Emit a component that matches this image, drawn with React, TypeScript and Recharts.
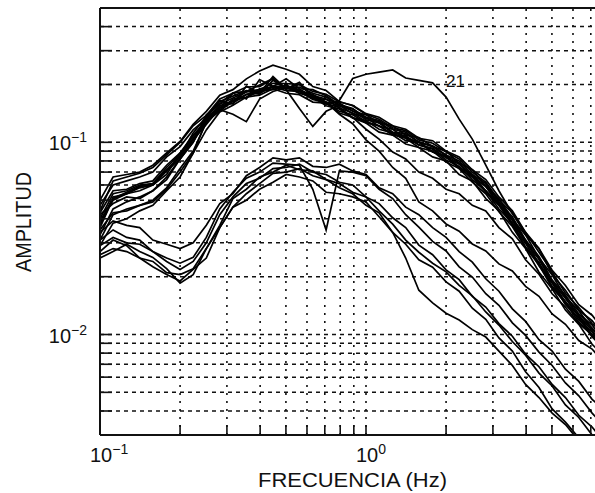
import React from "react"
import { LineChart, Line, XAxis, YAxis, ReferenceLine } from "recharts"

// frequencies (Hz), 1/20 decade steps
const freqs = [0.1, 0.112, 0.126, 0.141, 0.158, 0.178, 0.2, 0.224, 0.251, 0.282, 0.316, 0.355, 0.398, 0.447, 0.501, 0.562, 0.631, 0.708, 0.794, 0.891, 1.0, 1.12, 1.26, 1.41, 1.58, 1.78, 2.0, 2.24, 2.51, 2.82, 3.16, 3.55, 3.98, 4.47, 5.01, 5.62, 6.31, 7.08, 7.94]

// upper group of spectra
const upper1 = [0.05, 0.066, 0.068, 0.07, 0.076, 0.088, 0.101, 0.124, 0.145, 0.176, 0.188, 0.214, 0.235, 0.252, 0.24, 0.226, 0.195, 0.186, 0.163, 0.155, 0.14, 0.132, 0.119, 0.115, 0.103, 0.099, 0.089, 0.082, 0.07, 0.062, 0.05, 0.043, 0.033, 0.028, 0.0205, 0.017, 0.0134, 0.0118, 0.0096]
const upper2 = [0.042, 0.048, 0.052, 0.051, 0.056, 0.064, 0.082, 0.1, 0.132, 0.15, 0.18, 0.168, 0.212, 0.195, 0.214, 0.19, 0.188, 0.175, 0.157, 0.15, 0.133, 0.128, 0.113, 0.111, 0.1, 0.096, 0.086, 0.08, 0.068, 0.061, 0.049, 0.041, 0.031, 0.0255, 0.0192, 0.016, 0.0128, 0.0112, 0.0091]
const upper3 = [0.037, 0.051, 0.054, 0.058, 0.06, 0.071, 0.085, 0.112, 0.136, 0.163, 0.174, 0.186, 0.178, 0.21, 0.19, 0.194, 0.18, 0.172, 0.155, 0.146, 0.131, 0.126, 0.112, 0.108, 0.097, 0.092, 0.081, 0.075, 0.064, 0.056, 0.045, 0.038, 0.0285, 0.0238, 0.0178, 0.0149, 0.0119, 0.0103, 0.0083]
const upper4 = [0.031, 0.042, 0.045, 0.047, 0.05, 0.058, 0.073, 0.09, 0.127, 0.147, 0.168, 0.171, 0.186, 0.188, 0.199, 0.184, 0.177, 0.159, 0.152, 0.134, 0.13, 0.117, 0.112, 0.102, 0.1, 0.089, 0.085, 0.074, 0.068, 0.056, 0.048, 0.0378, 0.031, 0.0232, 0.019, 0.0147, 0.0126, 0.0099, 0.0084]
const upper5 = [0.044, 0.063, 0.066, 0.069, 0.074, 0.086, 0.1, 0.122, 0.138, 0.168, 0.18, 0.194, 0.195, 0.214, 0.188, 0.15, 0.121, 0.145, 0.156, 0.149, 0.135, 0.13, 0.117, 0.113, 0.1, 0.095, 0.085, 0.078, 0.067, 0.059, 0.048, 0.04, 0.0303, 0.0247, 0.0188, 0.0155, 0.0125, 0.0108, 0.009]
const upper6 = [0.039, 0.05, 0.054, 0.056, 0.06, 0.068, 0.088, 0.104, 0.135, 0.148, 0.14, 0.128, 0.168, 0.184, 0.193, 0.18, 0.177, 0.162, 0.156, 0.141, 0.135, 0.121, 0.117, 0.105, 0.101, 0.089, 0.084, 0.073, 0.066, 0.055, 0.047, 0.037, 0.0298, 0.0228, 0.0185, 0.0143, 0.0122, 0.0097, 0.0084]
const upper7 = [0.035, 0.043, 0.044, 0.047, 0.049, 0.057, 0.07, 0.088, 0.129, 0.145, 0.165, 0.171, 0.19, 0.193, 0.197, 0.18, 0.172, 0.155, 0.149, 0.134, 0.126, 0.113, 0.109, 0.098, 0.094, 0.084, 0.08, 0.068, 0.063, 0.051, 0.044, 0.034, 0.028, 0.0211, 0.0173, 0.0134, 0.0113, 0.0089, 0.0076]
const upper8 = [0.047, 0.06, 0.063, 0.066, 0.07, 0.084, 0.095, 0.116, 0.133, 0.165, 0.158, 0.196, 0.18, 0.22, 0.19, 0.2, 0.175, 0.168, 0.151, 0.142, 0.128, 0.122, 0.11, 0.105, 0.094, 0.09, 0.079, 0.073, 0.062, 0.054, 0.0435, 0.0365, 0.0283, 0.023, 0.0175, 0.0146, 0.0116, 0.0099, 0.008]
const upper9 = [0.043, 0.056, 0.057, 0.061, 0.063, 0.076, 0.088, 0.109, 0.128, 0.155, 0.164, 0.184, 0.188, 0.203, 0.202, 0.2, 0.184, 0.178, 0.162, 0.156, 0.141, 0.135, 0.122, 0.117, 0.105, 0.102, 0.09, 0.084, 0.072, 0.064, 0.052, 0.044, 0.034, 0.028, 0.0216, 0.018, 0.0143, 0.0126, 0.0103]
const upper10 = [0.033, 0.045, 0.049, 0.052, 0.056, 0.066, 0.082, 0.1, 0.139, 0.159, 0.181, 0.184, 0.199, 0.215, 0.19, 0.205, 0.17, 0.167, 0.16, 0.145, 0.139, 0.126, 0.122, 0.109, 0.106, 0.095, 0.09, 0.078, 0.072, 0.059, 0.051, 0.0398, 0.033, 0.025, 0.0204, 0.0157, 0.0133, 0.0107, 0.0092]
const upper11 = [0.029, 0.038, 0.04, 0.044, 0.047, 0.056, 0.066, 0.088, 0.116, 0.144, 0.156, 0.172, 0.176, 0.19, 0.18, 0.177, 0.162, 0.16, 0.145, 0.139, 0.126, 0.122, 0.109, 0.107, 0.097, 0.093, 0.083, 0.077, 0.066, 0.059, 0.047, 0.0392, 0.0303, 0.0247, 0.0188, 0.0155, 0.0124, 0.0105, 0.0086]

// station 21, the one with the bump above 1 Hz
const station21 = [0.04, 0.054, 0.056, 0.06, 0.061, 0.074, 0.087, 0.108, 0.131, 0.158, 0.17, 0.183, 0.185, 0.196, 0.194, 0.189, 0.174, 0.158, 0.165, 0.215, 0.226, 0.232, 0.238, 0.216, 0.21, 0.204, 0.172, 0.132, 0.104, 0.076, 0.056, 0.0425, 0.034, 0.0268, 0.0212, 0.0164, 0.0138, 0.0114, 0.0099]

// leave the upper group after 1 Hz
const mid1 = [0.036, 0.051, 0.055, 0.059, 0.061, 0.072, 0.084, 0.105, 0.126, 0.152, 0.163, 0.178, 0.184, 0.196, 0.191, 0.187, 0.169, 0.162, 0.14, 0.125, 0.103, 0.09, 0.074, 0.065, 0.049, 0.044, 0.0376, 0.0345, 0.0296, 0.0272, 0.0233, 0.0214, 0.0178, 0.0158, 0.0128, 0.0113, 0.0093, 0.0084, 0.007]
const mid2 = [0.038, 0.052, 0.054, 0.059, 0.06, 0.071, 0.082, 0.103, 0.124, 0.151, 0.16, 0.177, 0.18, 0.194, 0.186, 0.184, 0.167, 0.161, 0.142, 0.135, 0.117, 0.104, 0.089, 0.082, 0.07, 0.065, 0.057, 0.054, 0.047, 0.044, 0.036, 0.0315, 0.0245, 0.0206, 0.0163, 0.0139, 0.0114, 0.01, 0.0084]

// lower group
const lower1 = [0.034, 0.039, 0.037, 0.036, 0.031, 0.0295, 0.028, 0.03, 0.037, 0.048, 0.054, 0.067, 0.074, 0.083, 0.081, 0.083, 0.075, 0.074, 0.077, 0.071, 0.068, 0.058, 0.054, 0.046, 0.042, 0.036, 0.032, 0.027, 0.0238, 0.0195, 0.0168, 0.0136, 0.0117, 0.0094, 0.0082, 0.0066, 0.0057, 0.0046, 0.004]
const lower2 = [0.029, 0.032, 0.03, 0.0295, 0.027, 0.025, 0.0235, 0.0252, 0.032, 0.045, 0.055, 0.065, 0.07, 0.078, 0.077, 0.076, 0.057, 0.035, 0.071, 0.07, 0.067, 0.057, 0.051, 0.042, 0.0362, 0.0305, 0.0272, 0.0225, 0.0199, 0.0163, 0.0142, 0.0115, 0.0099, 0.0081, 0.0069, 0.0056, 0.0048, 0.0039, 0.0033]
const lower3 = [0.031, 0.035, 0.032, 0.031, 0.027, 0.024, 0.0218, 0.024, 0.03, 0.042, 0.052, 0.061, 0.065, 0.073, 0.074, 0.077, 0.07, 0.068, 0.062, 0.06, 0.052, 0.048, 0.0405, 0.036, 0.0292, 0.026, 0.0217, 0.0193, 0.0158, 0.0139, 0.0114, 0.0098, 0.0079, 0.0068, 0.0055, 0.0047, 0.0038, 0.0033, 0.0027]
const lower4 = [0.027, 0.031, 0.029, 0.025, 0.024, 0.021, 0.0205, 0.022, 0.028, 0.037, 0.051, 0.057, 0.066, 0.07, 0.076, 0.072, 0.071, 0.064, 0.061, 0.055, 0.052, 0.044, 0.0375, 0.031, 0.0268, 0.0235, 0.0212, 0.018, 0.0159, 0.0131, 0.0112, 0.0092, 0.0078, 0.0063, 0.0054, 0.0043, 0.0037, 0.003, 0.0025]
const lower5 = [0.026, 0.028, 0.027, 0.025, 0.0225, 0.0205, 0.019, 0.0218, 0.025, 0.036, 0.046, 0.054, 0.061, 0.069, 0.07, 0.073, 0.067, 0.064, 0.058, 0.054, 0.047, 0.043, 0.034, 0.0295, 0.0245, 0.0224, 0.0188, 0.0168, 0.0137, 0.012, 0.0096, 0.0082, 0.0064, 0.0053, 0.0041, 0.0035, 0.0029, 0.0025, 0.0021]
const lower6 = [0.025, 0.027, 0.0295, 0.027, 0.0252, 0.022, 0.0185, 0.0205, 0.028, 0.036, 0.046, 0.05, 0.057, 0.062, 0.068, 0.066, 0.063, 0.055, 0.054, 0.052, 0.049, 0.041, 0.034, 0.025, 0.017, 0.0146, 0.0129, 0.0119, 0.0106, 0.0097, 0.0082, 0.0069, 0.0055, 0.0047, 0.0039, 0.0034, 0.0028, 0.0025, 0.0021]

const series = [
  { key: "u1", values: upper1 },
  { key: "u2", values: upper2 },
  { key: "u3", values: upper3 },
  { key: "u4", values: upper4 },
  { key: "u5", values: upper5 },
  { key: "u6", values: upper6 },
  { key: "u7", values: upper7 },
  { key: "u8", values: upper8 },
  { key: "u9", values: upper9 },
  { key: "u10", values: upper10 },
  { key: "u11", values: upper11 },
  { key: "m1", values: mid1 },
  { key: "m2", values: mid2 },
  { key: "l1", values: lower1 },
  { key: "l2", values: lower2 },
  { key: "l3", values: lower3 },
  { key: "l4", values: lower4 },
  { key: "l5", values: lower5 },
  { key: "l6", values: lower6 },
  { key: "s21", values: station21 },
]

const data = freqs.map((f, i) => {
  const row: Record<string, number> = { f }
  series.forEach((s) => {
    row[s.key] = s.values[i]
  })
  return row
})

const xGrid = [0.2, 0.3, 0.4, 0.5, 0.6, 0.7, 0.8, 0.9, 1, 2, 3, 4, 5, 6, 7, 8, 9]
const yGrid = [0.004, 0.005, 0.006, 0.007, 0.008, 0.009, 0.01, 0.02, 0.03, 0.04, 0.05, 0.06, 0.07, 0.08, 0.09, 0.1, 0.2, 0.3, 0.4]
const xTicks = [0.1, ...xGrid]
const xLabels: Record<string, string> = { "0.1": "−1", "1": "0" }
const yLabels: Record<string, string> = { "0.1": "−1", "0.01": "−2" }

const FONT = '"Liberation Sans", Arial, sans-serif'
const INK = "#111"

function XTick({ x, y, payload }: any) {
  const exp = xLabels[String(payload.value)]
  return (
    <g>
      <line x1={x} y1={y} x2={x} y2={y - 10} stroke={INK} strokeWidth={1.6} />
      {exp && (
        <text x={x - 10} y={y + 27} fontSize={20} fontFamily={FONT} fill={INK}>
          10<tspan dy={-8} fontSize={14}>{exp}</tspan>
        </text>
      )}
    </g>
  )
}

function YTick({ x, y, payload }: any) {
  const exp = yLabels[String(payload.value)]
  return (
    <g>
      <line x1={x} y1={y} x2={x + 12} y2={y} stroke={INK} strokeWidth={1.6} />
      {exp && (
        <text x={x - 13} y={y + 8} textAnchor="end" fontSize={20} fontFamily={FONT} fill={INK}>
          10<tspan dy={-8} fontSize={14}>{exp}</tspan>
        </text>
      )}
    </g>
  )
}

export default function App() {
  return (
    <div style={{ position: "absolute", left: 0, top: 0, width: 595, height: 493, overflow: "hidden", background: "#fff" }}>
      <LineChart width={640} height={493} data={data} margin={{ top: 8, right: 8, bottom: 0, left: 0 }}>
        {yGrid.map((v) => (
          <ReferenceLine key={`gy-${v}`} y={v} stroke={INK} strokeWidth={1.5} strokeDasharray="4 4" />
        ))}
        {xGrid.map((v) => (
          <ReferenceLine key={`gx-${v}`} x={v} stroke={INK} strokeWidth={1.6} strokeDasharray="2 6" />
        ))}
        <ReferenceLine y={0.5} stroke={INK} strokeWidth={2} />
        <XAxis
          dataKey="f"
          type="number"
          scale="log"
          domain={[0.1, 10]}
          allowDataOverflow
          ticks={xTicks}
          interval={0}
          tickSize={0}
          tickMargin={0}
          tickLine={false}
          tick={<XTick />}
          axisLine={{ stroke: INK, strokeWidth: 2 }}
          height={58}
        />
        <YAxis
          type="number"
          scale="log"
          domain={[0.003, 0.5]}
          allowDataOverflow
          ticks={yGrid}
          interval={0}
          tickSize={0}
          tickMargin={0}
          tickLine={false}
          tick={<YTick />}
          axisLine={{ stroke: INK, strokeWidth: 2 }}
          width={100}
        />
        {series.map((s) => (
          <Line
            key={s.key}
            dataKey={s.key}
            type="linear"
            stroke="#000"
            strokeWidth={1.7}
            dot={false}
            isAnimationActive={false}
            label={
              s.key === "s21"
                ? (p: any) =>
                    p.index === 26 ? (
                      <text key="lbl21" x={p.x} y={p.y - 10} fontSize={17} fontFamily={FONT} fill={INK}>
                        21
                      </text>
                    ) : (
                      <g key={`e-${p.index}`} />
                    )
                : false
            }
          />
        ))}
      </LineChart>
      <svg width={595} height={493} style={{ position: "absolute", left: 0, top: 0, pointerEvents: "none" }}>
        <text
          x={0}
          y={0}
          transform="translate(31 222) rotate(-90)"
          textAnchor="middle"
          fontSize={22}
          fontFamily={FONT}
          fill={INK}
          textLength={100}
          lengthAdjust="spacingAndGlyphs"
        >
          AMPLITUD
        </text>
        <text x={258} y={487} fontSize={21} fontFamily={FONT} fill={INK} textLength={189} lengthAdjust="spacingAndGlyphs">
          FRECUENCIA (Hz)
        </text>
      </svg>
    </div>
  )
}
